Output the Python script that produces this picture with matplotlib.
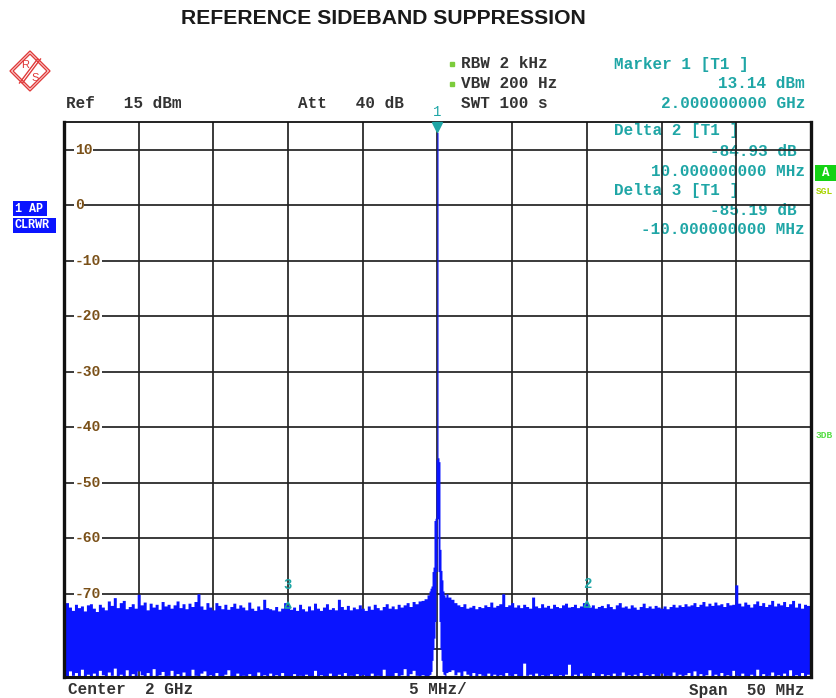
import numpy as np
import matplotlib
matplotlib.use("Agg")
import matplotlib.pyplot as plt
from matplotlib.patches import Polygon, Rectangle
from matplotlib.lines import Line2D

# ---------------- data ----------------
# noise floor trace (max / min per bin), 0.2 MHz bins from -25 to +25 MHz offset
noise_freq_start = -25.0
noise_freq_step = 0.2
noise_upper = [
    -72.8, -71.6, -72.4, -73.0, -71.9, -72.5, -72.2, -73.1, -72.0, -71.8,
    -72.6, -73.2, -71.9, -72.4, -72.9, -71.3, -72.1, -70.7, -72.5, -71.6,
    -71.2, -72.7, -72.3, -71.8, -72.6, -70.1, -72.0, -71.5, -72.9, -71.7,
    -72.4, -71.9, -72.8, -71.4, -72.2, -71.9, -72.6, -72.0, -71.3, -72.5,
    -71.8, -72.7, -71.7, -72.3, -71.4, -70.0, -72.2, -72.8, -71.6, -72.4,
    -72.9, -71.6, -72.1, -72.7, -71.9, -72.8, -72.3, -71.7, -72.6, -72.0,
    -72.4, -72.9, -71.5, -72.6, -73.0, -72.2, -72.8, -71.0, -72.5, -72.7,
    -72.9, -72.3, -73.1, -72.6, -71.6, -72.1, -72.8, -72.4, -73.0, -71.9,
    -72.7, -73.1, -72.2, -72.9, -71.7, -72.6, -73.0, -72.4, -71.8, -72.8,
    -72.5, -72.9, -71.0, -72.3, -72.8, -72.1, -72.9, -72.4, -72.7, -72.0,
    -72.6, -73.0, -72.2, -72.8, -71.9, -72.5, -72.9, -72.3, -71.8, -72.6,
    -72.2, -72.7, -71.9, -72.4, -72.0, -71.6, -72.3, -71.4, -71.8, -71.3,
    -71.2, -70.9, -70.2, -69.5, -69.0, -68.0, -69.0, -69.5, -70.0, -70.6,
    -71.0, -71.6, -72.0, -72.3, -71.8, -72.6, -72.4, -72.1, -72.7, -72.3,
    -72.5, -72.0, -72.3, -71.5, -72.4, -72.1, -71.8, -70.0, -72.3, -72.0,
    -71.6, -72.4, -72.0, -72.5, -71.9, -72.3, -72.6, -70.6, -72.2, -72.5,
    -71.8, -72.4, -72.1, -72.6, -71.9, -72.3, -72.5, -72.0, -71.7, -72.4,
    -72.3, -71.9, -72.5, -72.2, -71.6, -71.8, -72.4, -72.0, -72.6, -72.3,
    -72.1, -72.5, -71.8, -72.3, -72.7, -72.0, -71.6, -72.4, -72.2, -72.6,
    -72.0, -72.4, -72.8, -72.3, -71.7, -72.5, -72.2, -72.6, -72.1, -72.4,
    -72.6, -72.2, -72.7, -72.3, -71.9, -72.4, -72.0, -72.3, -71.8, -72.2,
    -72.0, -71.6, -72.3, -71.9, -71.4, -72.2, -71.7, -72.1, -71.5, -72.0,
    -71.8, -72.3, -71.6, -72.0, -71.9, -68.4, -71.7, -72.2, -71.5, -71.9,
    -72.4, -71.8, -71.3, -72.1, -71.6, -72.3, -71.9, -71.2, -72.2, -71.7,
    -72.0, -71.4, -72.3, -71.8, -71.2, -72.4, -71.7, -72.6, -71.9, -72.1,
    -72.3,
]
noise_lower = [
    -84.6, -84.9, -83.9, -84.7, -84.2, -84.9, -83.6, -84.8, -84.5, -84.9,
    -84.3, -84.9, -83.8, -84.6, -84.9, -84.1, -84.7, -83.4, -84.9, -84.5,
    -84.8, -83.7, -84.9, -84.4, -84.9, -83.9, -84.6, -84.9, -84.2, -84.8,
    -83.5, -84.9, -84.6, -84.0, -84.9, -84.7, -83.8, -84.9, -84.4, -84.9,
    -84.1, -84.8, -84.9, -83.6, -84.7, -84.9, -84.3, -83.9, -84.9, -84.6,
    -84.9, -84.2, -84.8, -84.9, -84.5, -83.7, -84.9, -84.8, -84.3, -84.9,
    -84.7, -84.9, -84.4, -84.9, -84.8, -84.1, -84.9, -84.6, -84.9, -84.3,
    -84.9, -84.6, -84.9, -84.2, -84.9, -84.8, -84.9, -84.4, -84.9, -84.7,
    -84.9, -84.5, -84.9, -84.8, -83.8, -84.9, -84.6, -84.9, -84.9, -84.3,
    -84.8, -84.9, -84.5, -84.9, -84.2, -84.9, -84.7, -84.9, -84.4, -84.9,
    -84.6, -84.9, -84.8, -84.3, -84.9, -84.7, -84.9, -83.6, -84.9, -84.8,
    -84.9, -84.2, -84.9, -84.6, -83.5, -84.9, -84.4, -83.8, -84.7, -84.9,
    -84.6, -84.9, -84.8, -80.0, -75.0, -60.0, -75.0, -80.0, -84.2, -84.0,
    -83.7, -84.6, -84.1, -84.9, -83.9, -84.5, -84.8, -84.2, -84.9, -84.4,
    -84.7, -84.9, -84.3, -84.8, -84.5, -84.9, -84.6, -84.9, -84.2, -84.7,
    -84.9, -84.4, -84.8, -84.9, -82.5, -84.7, -84.5, -84.9, -84.3, -84.8,
    -84.6, -84.9, -84.7, -84.4, -84.9, -84.8, -84.6, -84.9, -84.5, -82.7,
    -84.9, -84.5, -84.8, -84.3, -84.9, -84.7, -84.9, -84.2, -84.8, -84.9,
    -84.4, -84.9, -84.6, -84.8, -84.3, -84.9, -84.7, -84.1, -84.9, -84.6,
    -84.9, -84.5, -84.8, -84.2, -84.9, -84.6, -84.9, -84.4, -84.8, -84.9,
    -84.3, -84.9, -84.7, -84.9, -84.1, -84.8, -84.5, -84.9, -84.6, -84.2,
    -84.9, -83.9, -84.8, -84.4, -84.9, -84.6, -83.7, -84.9, -84.5, -84.8,
    -84.2, -84.9, -84.6, -84.9, -83.8, -84.7, -84.9, -84.3, -84.8, -84.9,
    -84.5, -84.9, -83.6, -84.8, -84.4, -84.9, -84.7, -84.1, -84.9, -84.6,
    -84.9, -84.3, -84.8, -83.7, -84.9, -84.6, -84.9, -84.2, -84.8, -84.5,
    -84.9,
]
# carrier region, one display pixel per bin
peak_freq = [-0.53, -0.47, -0.40, -0.33, -0.27, -0.20, -0.13, -0.07, 0.0,
             0.07, 0.13, 0.20, 0.27, 0.33, 0.40, 0.47, 0.53]
peak_upper = [-69.5, -69.0, -68.6, -66.0, -65.2, -56.8, -56.4, -45.8, 13.14,
              -45.5, -46.2, -62.0, -65.8, -67.5, -69.5, -70.2, -70.6]
peak_lower = [-84.6, -84.5, -84.0, -82.0, -80.0, -78.0, -75.0, -66.0, -56.5,
              -66.0, -75.0, -80.0, -82.0, -84.0, -84.5, -84.6, -84.8]

marker_ids = ["1", "2", "3"]
marker_freq = [0.0, 10.0, -10.0]
marker_level = [13.14, 13.14 - 84.93, 13.14 - 85.19]

y_tick_values = [10, 0, -10, -20, -30, -40, -50, -60, -70, -80]
y_tick_labels = ["10", "0", "-10", "-20", "-30", "-40", "-50", "-60", "-70", "-80"]
x_grid_values = [-20, -15, -10, -5, 0, 5, 10, 15, 20]

# ---------------- figure ----------------
W, H = 837, 698
fig = plt.figure(figsize=(W / 100, H / 100), dpi=100)


def P(x, y):
    return (x / W, 1 - y / H)


ax_l, ax_r, ax_t, ax_b = 64, 811, 122, 677
ax = fig.add_axes([ax_l / W, 1 - ax_b / H, (ax_r - ax_l) / W, (ax_b - ax_t) / H])
ax.set_xlim(-25, 25)
ax.set_ylim(-85, 15)
ax.set_xticks([])
ax.set_yticks([])
for side, lw in [("left", 2.4), ("right", 2.4), ("bottom", 2.2), ("top", 1.3)]:
    ax.spines[side].set_linewidth(lw)
    ax.spines[side].set_color("#111111")
    ax.spines[side].set_zorder(6)

grid_col = "#222222"
for v in y_tick_values:
    ax.axhline(v, color=grid_col, lw=1.25, zorder=2)
for v in x_grid_values:
    ax.axvline(v, color=grid_col, lw=1.25, zorder=2)

# trace
nf = noise_freq_start + noise_freq_step * np.arange(len(noise_upper))
nu = np.array(noise_upper)
nl = np.array(noise_lower)
keep = np.abs(nf) > 0.56
f_all = np.concatenate([nf[keep], np.array(peak_freq)])
u_all = np.concatenate([nu[keep], np.array(peak_upper)])
l_all = np.concatenate([nl[keep], np.array(peak_lower)])
order = np.argsort(f_all)
f_all, u_all, l_all = f_all[order], u_all[order], l_all[order]
blue = "#0a14ff"
ax.fill_between(f_all, l_all, u_all, step="mid", color=blue, lw=0, zorder=3)

mono = dict(family="Liberation Mono", fontweight="bold", fontsize=11.5)
dark = "#333333"
teal = "#1fa6a6"

# y tick labels inside the plot with white backgrounds
for v, lab in zip(y_tick_values, y_tick_labels):
    ax.text(11 / (ax_r - ax_l), v, lab, transform=ax.get_yaxis_transform(),
            ha="left", va="center", color="#7a5018", zorder=2.5,
            family="Liberation Mono", fontweight="bold", fontsize=10.5,
            bbox=dict(boxstyle="square,pad=0.05", fc="white", ec="none"))

# markers
for mid, mf, ml in zip(marker_ids, marker_freq, marker_level):
    if mid == "1":
        ax.plot([mf], [ml + 1.0], marker="v", color=teal, ms=7, zorder=7, clip_on=False)
        ax.text(mf, ml + 3.6, mid, ha="center", va="center", color=teal,
                clip_on=False, zorder=7, family="Liberation Mono", fontsize=10)
    else:
        ax.plot([mf], [ml], marker="^", mfc="none", mec=teal, mew=1.2, ms=5,
                zorder=7, clip_on=False)
        ax.text(mf, ml + 3.6, mid, ha="center", va="center", color=teal,
                zorder=7, family="Liberation Mono", fontweight="bold", fontsize=10)

# title
fig.text(*P(383, 18), "REFERENCE SIDEBAND SUPPRESSION", ha="center", va="center",
         fontsize=15.2, fontweight="bold", family="Liberation Sans", color="#1a1a1a")

# header texts
fig.text(*P(66, 104), "Ref   15 dBm", ha="left", va="center", color=dark, **mono)
fig.text(*P(298, 104), "Att   40 dB", ha="left", va="center", color=dark, **mono)
fig.text(*P(461, 64), "RBW 2 kHz", ha="left", va="center", color=dark, **mono)
fig.text(*P(461, 84), "VBW 200 Hz", ha="left", va="center", color=dark, **mono)
fig.text(*P(461, 104), "SWT 100 s", ha="left", va="center", color=dark, **mono)
for yy in (64, 84):
    fig.add_artist(Line2D([452 / W], [1 - yy / H], marker="s", ms=2.5, color="#7ccc3c",
                          mec="#7ccc3c", transform=fig.transFigure))

# marker info
fig.text(*P(614, 64), "Marker 1 [T1 ]", ha="left", va="center", color=teal, **mono)
fig.text(*P(805, 84), "13.14 dBm", ha="right", va="center", color=teal, **mono)
fig.text(*P(805, 104), "2.000000000 GHz", ha="right", va="center", color=teal, **mono)

inside = [
    (614, 131, "Delta 2 [T1 ]", "left"),
    (797, 151, "-84.93 dB", "right"),
    (805, 171, "10.000000000 MHz", "right"),
    (614, 191, "Delta 3 [T1 ]", "left"),
    (797, 210, "-85.19 dB", "right"),
    (805, 230, "-10.000000000 MHz", "right"),
]
for x, y, s, ha in inside:
    ax.text(*P(x, y), s, transform=fig.transFigure, ha=ha, va="center",
            color=teal, zorder=1, **mono)

# bottom texts
fig.text(*P(68, 690), "Center  2 GHz", ha="left", va="center", color=dark, **mono)
fig.text(*P(438, 690), "5 MHz/", ha="center", va="center", color=dark, **mono)
fig.text(*P(805, 690), "Span  50 MHz", ha="right", va="center", color=dark, **mono)

# left side boxes
for (x0, y0, x1, y1, s) in [(13, 201, 47, 216, "1 AP"), (13, 218, 56, 233, "CLRWR")]:
    fig.add_artist(Rectangle(P(x0, y1), (x1 - x0) / W, (y1 - y0) / H,
                             transform=fig.transFigure, fc="#0a14ff", ec="none"))
    fig.text(*P(x0 + 2, (y0 + y1) / 2), s, ha="left", va="center", color="white",
             family="Liberation Mono", fontweight="bold", fontsize=8.5)

# right side indicators
fig.add_artist(Rectangle(P(815, 181), 22 / W, 16 / H, transform=fig.transFigure,
                         fc="#14d214", ec="none"))
fig.text(*P(826, 173), "A", ha="center", va="center", color="white",
         family="Liberation Mono", fontweight="bold", fontsize=9)
fig.text(*P(816, 191), "SGL", ha="left", va="center", color="#a8d400",
         family="Liberation Mono", fontweight="bold", fontsize=6.8)
fig.text(*P(816, 436), "3DB", ha="left", va="center", color="#55dd44",
         family="Liberation Mono", fontweight="bold", fontsize=6.8)

# R&S logo
red = "#e03a3a"
cx, cy, r = 30, 71, 20
for rr in (r, r - 3):
    fig.add_artist(Polygon([P(cx, cy - rr), P(cx + rr, cy), P(cx, cy + rr), P(cx - rr, cy)],
                           closed=True, fill=False, ec=red, lw=1.0, transform=fig.transFigure))
for d in (-1.5, 1.5):
    fig.add_artist(Line2D([(cx - 9 + d) / W, (cx + 9 + d) / W],
                          [1 - (cy + 12) / H, 1 - (cy - 12) / H],
                          color=red, lw=1.0, transform=fig.transFigure))
fig.text(*P(25, 65), "R", ha="center", va="center", color=red,
         family="Liberation Sans", fontsize=8)
fig.text(*P(35, 78), "S", ha="center", va="center", color=red,
         family="Liberation Sans", fontsize=8)

fig.savefig("out.png", dpi=100)
